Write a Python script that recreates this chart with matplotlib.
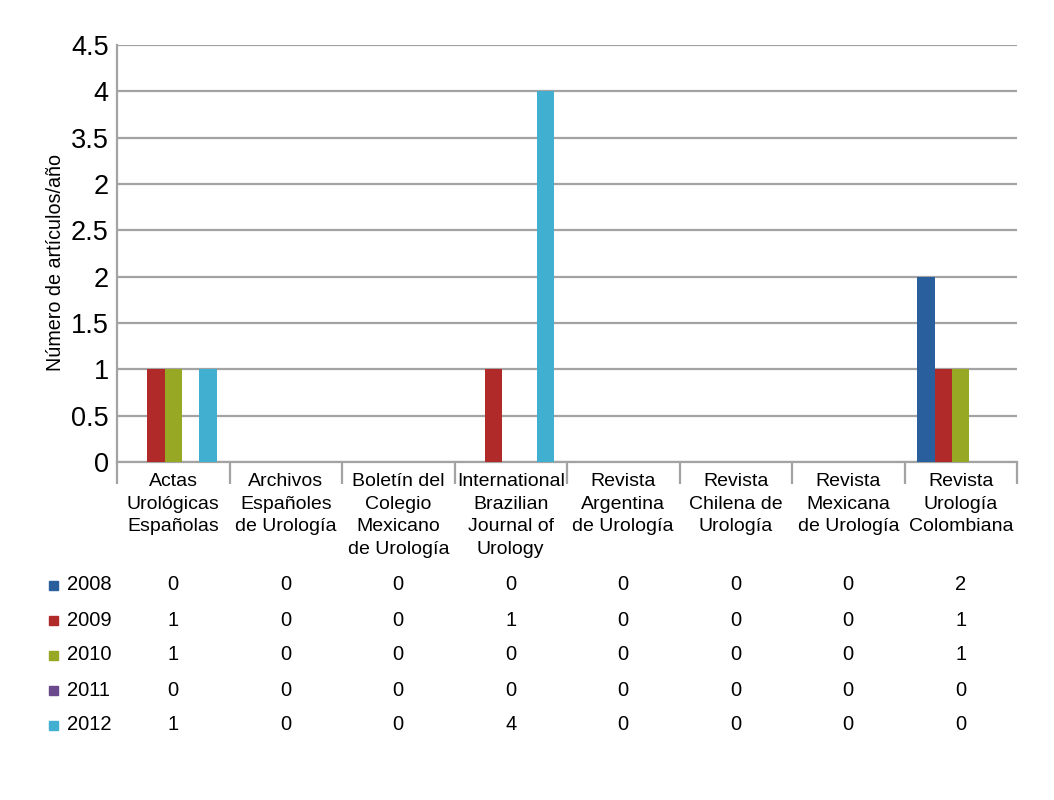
import matplotlib.pyplot as plt
import numpy as np
from matplotlib.patches import Rectangle
from matplotlib.ticker import FixedLocator

plt.rcParams['font.family'] = ['Liberation Sans', 'DejaVu Sans']

# revistas y series por año
revistas = ["Actas\nUrológicas\nEspañolas", "Archivos\nEspañoles\nde Urología",
            "Boletín del\nColegio\nMexicano\nde Urología", "International\nBrazilian\nJournal of\nUrology",
            "Revista\nArgentina\nde Urología", "Revista\nChilena de\nUrología",
            "Revista\nMexicana\nde Urología", "Revista\nUrología\nColombiana"]
anios = ["2008", "2009", "2010", "2011", "2012"]
v2008 = [0, 0, 0, 0, 0, 0, 0, 2]
v2009 = [1, 0, 0, 1, 0, 0, 0, 1]
v2010 = [1, 0, 0, 0, 0, 0, 0, 1]
v2011 = [0, 0, 0, 0, 0, 0, 0, 0]
v2012 = [1, 0, 0, 4, 0, 0, 0, 0]
series = [v2008, v2009, v2010, v2011, v2012]
colores = ["#2a5f9e", "#b02a2a", "#97a825", "#6a4a8c", "#41b0d0"]
yticks = [0, 0.5, 1, 1.5, 2, 2.5, 3, 3.5, 4, 4.5]
ytick_labels = ["0", "0.5", "1", "1.5", "2", "2.5", "2", "3.5", "4", "4.5"]

fig = plt.figure(figsize=(10.54, 8), dpi=100)
ax = fig.add_axes([117/1054, 1-462/800, 900/1054, 417/800])

n = len(revistas)
x = np.arange(n) + 0.5
w = 0.155
for j, vals in enumerate(series):
    ax.bar(x + (j - 2) * w, vals, width=w, color=colores[j], zorder=3)

ax.set_xlim(0, n)
ax.set_ylim(0, 4.5)
ax.set_yticks(yticks)
ax.set_yticklabels(ytick_labels, fontsize=19.5)
ax.yaxis.grid(True, color="#a3a3a3", lw=1.6, zorder=1)
ax.tick_params(axis='y', length=0, pad=6)

ax.set_xticks(x)
ax.set_xticklabels(revistas, fontsize=14, linespacing=1.43, va='top')
ax.tick_params(axis='x', which='major', length=0, pad=8)
ax.xaxis.set_minor_locator(FixedLocator(np.arange(n + 1)))
ax.tick_params(axis='x', which='minor', length=16, width=1.6, color="#a3a3a3")

for s in ['top', 'right']:
    ax.spines[s].set_visible(False)
for s in ['left', 'bottom']:
    ax.spines[s].set_color("#a3a3a3")
    ax.spines[s].set_linewidth(1.6)

ax.set_ylabel("Número de artículos/año", fontsize=14.2)
ax.yaxis.set_label_coords(-52/900, 0.478)

# tabla de datos
filas_y = [585, 620, 655, 690, 725]
for j, (anio, vals) in enumerate(zip(anios, series)):
    fy = 1 - filas_y[j] / 800
    fig.patches.append(Rectangle((49/1054, fy - 4.5/800), 9/1054, 9/800,
                                 transform=fig.transFigure, color=colores[j]))
    fig.text(67/1054, fy, anio, fontsize=14.5, va='center', ha='left')
    for i, v in enumerate(vals):
        xf = (117 + (i + 0.5) * 900 / n) / 1054
        fig.text(xf, fy, str(v), fontsize=14.5, va='center', ha='center')

fig.savefig("out.png", dpi=100, facecolor="white")
